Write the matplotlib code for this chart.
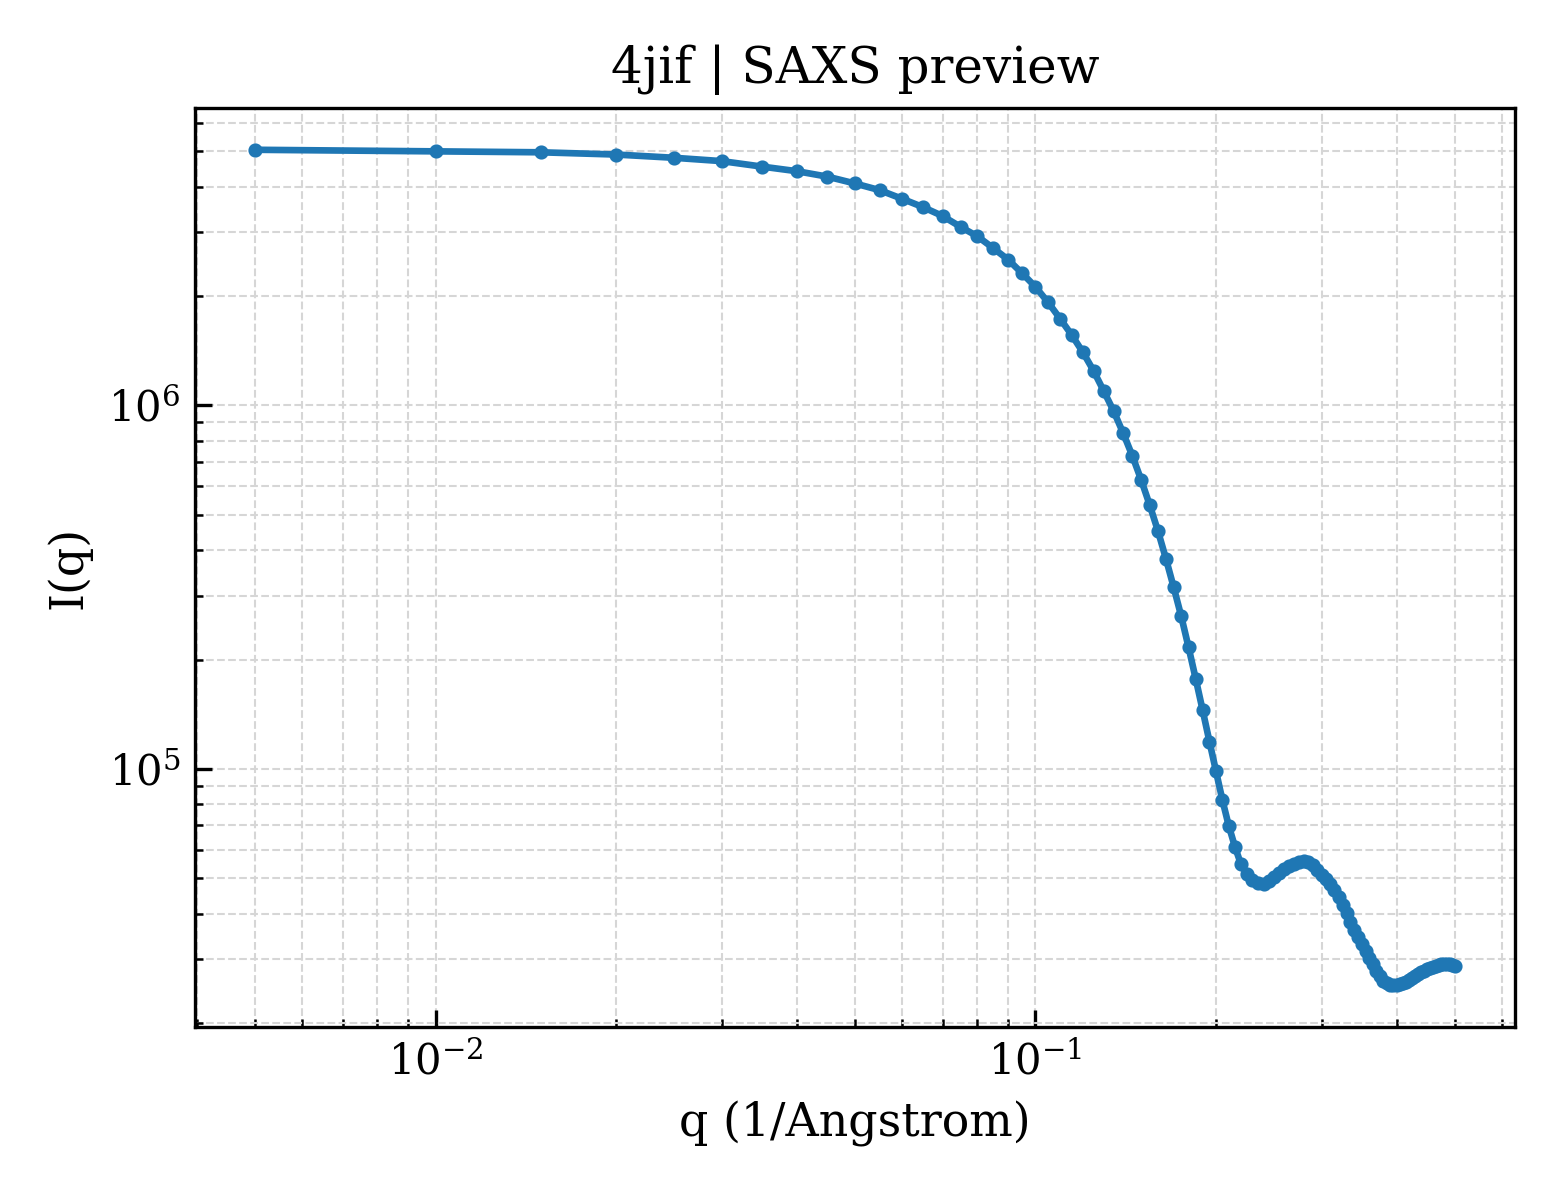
import matplotlib
matplotlib.use('Agg')
import matplotlib.pyplot as plt

plt.rcParams['font.family'] = 'serif'
plt.rcParams['font.serif'] = ['DejaVu Serif']
plt.rcParams['mathtext.fontset'] = 'dejavuserif'

# q grid (1/Angstrom)
q = [0.005, 0.010, 0.015, 0.020, 0.025, 0.030, 0.035, 0.040, 0.045, 0.050,
     0.055, 0.060, 0.065, 0.070, 0.075, 0.080, 0.085, 0.090, 0.095, 0.100,
     0.105, 0.110, 0.115, 0.120, 0.125, 0.130, 0.135, 0.140, 0.145, 0.150,
     0.155, 0.160, 0.165, 0.170, 0.175, 0.180, 0.185, 0.190, 0.195, 0.200,
     0.205, 0.210, 0.215, 0.220, 0.225, 0.230, 0.235, 0.240, 0.245, 0.250,
     0.255, 0.260, 0.265, 0.270, 0.275, 0.280, 0.285, 0.290, 0.295, 0.300,
     0.305, 0.310, 0.315, 0.320, 0.325, 0.330, 0.335, 0.340, 0.345, 0.350,
     0.355, 0.360, 0.365, 0.370, 0.375, 0.380, 0.385, 0.390, 0.395, 0.400,
     0.405, 0.410, 0.415, 0.420, 0.425, 0.430, 0.435, 0.440, 0.445, 0.450,
     0.455, 0.460, 0.465, 0.470, 0.475, 0.480, 0.485, 0.490, 0.495, 0.500]

intensity = [5.05e6, 5.00e6, 4.97e6, 4.90e6, 4.80e6, 4.70e6, 4.54e6, 4.41e6, 4.26e6, 4.08e6,
             3.91e6, 3.70e6, 3.51e6, 3.32e6, 3.10e6, 2.92e6, 2.71e6, 2.52e6, 2.31e6, 2.12e6,
             1.92e6, 1.73e6, 1.56e6, 1.40e6, 1.245e6, 1.095e6, 9.65e5, 8.40e5, 7.28e5, 6.25e5,
             5.33e5, 4.52e5, 3.79e5, 3.16e5, 2.63e5, 2.16e5, 1.77e5, 1.45e5, 1.19e5, 9.85e4,
             8.20e4, 6.98e4, 6.12e4, 5.48e4, 5.15e4, 4.96e4, 4.86e4, 4.84e4, 4.93e4, 5.05e4,
             5.18e4, 5.30e4, 5.40e4, 5.49e4, 5.55e4, 5.57e4, 5.55e4, 5.46e4, 5.29e4, 5.12e4,
             4.98e4, 4.82e4, 4.64e4, 4.44e4, 4.23e4, 4.01e4, 3.80e4, 3.61e4, 3.45e4, 3.31e4,
             3.16e4, 3.02e4, 2.90e4, 2.78e4, 2.69e4, 2.62e4, 2.58e4, 2.55e4, 2.54e4, 2.545e4,
             2.56e4, 2.58e4, 2.60e4, 2.63e4, 2.665e4, 2.70e4, 2.73e4, 2.76e4, 2.79e4, 2.815e4,
             2.84e4, 2.86e4, 2.875e4, 2.89e4, 2.90e4, 2.90e4, 2.90e4, 2.90e4, 2.89e4, 2.875e4]

fig, ax = plt.subplots(figsize=(5.2, 4), dpi=300)
fig.subplots_adjust(left=0.125, right=0.971, top=0.91, bottom=0.144)

ax.plot(q, intensity, '-o', color='#1f77b4', linewidth=1.6, markersize=2.4)

ax.set_xscale('log')
ax.set_yscale('log')

ax.grid(True, which='both', linestyle='--', linewidth=0.5, color='#d6d6d6')
ax.tick_params(which='both', direction='in', labelsize=10)
ax.tick_params(which='major', length=4)

ax.set_xlabel('q (1/Angstrom)', fontsize=11)
ax.set_ylabel('I(q)', fontsize=11)
ax.set_title('4jif | SAXS preview', fontsize=12)

plt.savefig('out.png', dpi=300)
